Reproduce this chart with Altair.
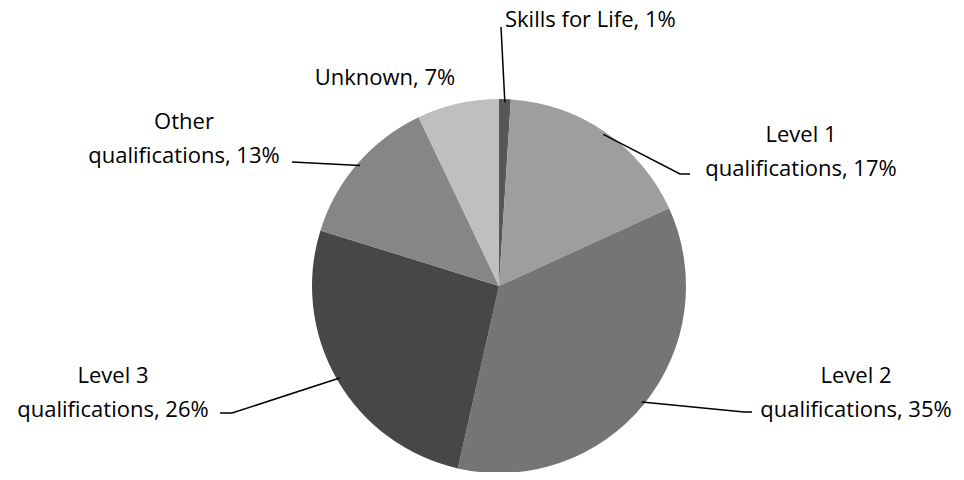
import altair as alt
import numpy as np
import pandas as pd

# ---- data ----
categories = ["Skills for Life", "Level 1 qualifications", "Level 2 qualifications",
              "Level 3 qualifications", "Other qualifications", "Unknown"]
values = [1, 17, 35, 26, 13, 7]
label_lines = [["Skills for Life, 1%"], ["Level 1", "qualifications, 17%"],
               ["Level 2", "qualifications, 35%"], ["Level 3", "qualifications, 26%"],
               ["Other", "qualifications, 13%"], ["Unknown, 7%"]]
colors = ["#575757", "#9e9e9e", "#757575", "#474747", "#868686", "#bfbfbf"]

# ---- layout (pixels within the plot area; TOP px of padding above it) ----
TOP = 6
W, H = 948, 464 - TOP
CX, CY, R = 491, 278 - TOP, 187
label_pos = {  # x, y (first line centre), align
    "Skills for Life": (497, 12 - TOP, "left"),
    "Level 1 qualifications": (793, 127 - TOP, "center"),
    "Level 2 qualifications": (848, 368 - TOP, "center"),
    "Level 3 qualifications": (105, 368 - TOP, "center"),
    "Other qualifications": (176, 114 - TOP, "center"),
    "Unknown": (377, 70 - TOP, "center"),
}
leader_bends = {  # elbow, end
    "Skills for Life": [(493, 19 - TOP)],
    "Level 1 qualifications": [(672, 166 - TOP), (682, 166 - TOP)],
    "Level 2 qualifications": [(736, 404 - TOP), (744, 404 - TOP)],
    "Level 3 qualifications": [(224, 405 - TOP), (212, 405 - TOP)],
    "Other qualifications": [(284, 154 - TOP)],
}

df = pd.DataFrame({"category": categories, "value": values, "idx": range(len(values))})

# leader lines: start on the slice edge at its mid-angle
total = sum(values)
cum = np.cumsum([0] + values[:-1])
rows = []
for name, v, c in zip(categories, values, cum):
    if name not in leader_bends:
        continue
    ang = (c + v / 2) / total * 2 * np.pi
    ax = CX + (R - 3) * np.sin(ang)
    ay = CY - (R - 3) * np.cos(ang)
    pts = [(ax, ay)] + leader_bends[name]
    for k, (px, py) in enumerate(pts):
        rows.append({"category": name, "seq": k, "x": px, "y": py})
lines_df = pd.DataFrame(rows)

lab_rows = []
for name, lines in zip(categories, label_lines):
    x, y, al = label_pos[name]
    lab_rows.append({"category": name, "text": "\n".join(lines), "x": x, "y": y, "align": al})
lab_df = pd.DataFrame(lab_rows)

xs = alt.Scale(domain=[0, W])
ys = alt.Scale(domain=[H, 0])

pie = alt.Chart(df).mark_arc(radius=R).encode(
    theta=alt.Theta("value:Q", stack=True),
    order=alt.Order("idx:Q"),
    color=alt.Color("category:N", scale=alt.Scale(domain=categories, range=colors), legend=None),
    x=alt.value(CX), y=alt.value(CY),
)

leaders = alt.Chart(lines_df).mark_line(color="black", strokeWidth=1.5).encode(
    x=alt.X("x:Q", scale=xs, axis=None),
    y=alt.Y("y:Q", scale=ys, axis=None),
    detail="category:N",
    order="seq:Q",
)

font = "Open Sans"
def text_layer(align):
    d = lab_df[lab_df["align"] == align]
    return alt.Chart(d).mark_text(align=align, baseline="middle", font=font, fontSize=22,
                                  lineBreak="\n", lineHeight=34, color="black").encode(
        x=alt.X("x:Q", scale=xs, axis=None),
        y=alt.Y("y:Q", scale=ys, axis=None),
        text="text:N",
    )

chart = alt.layer(pie, leaders, text_layer("center"), text_layer("left")).properties(
    width=W, height=H, padding={"left": 0, "top": TOP, "right": 0, "bottom": 0},
    autosize=alt.AutoSizeParams(type="none"),
    background="white",
).configure_view(stroke=None, strokeWidth=0)

chart.save("out.html", embed_options={"renderer": "svg", "actions": False})
